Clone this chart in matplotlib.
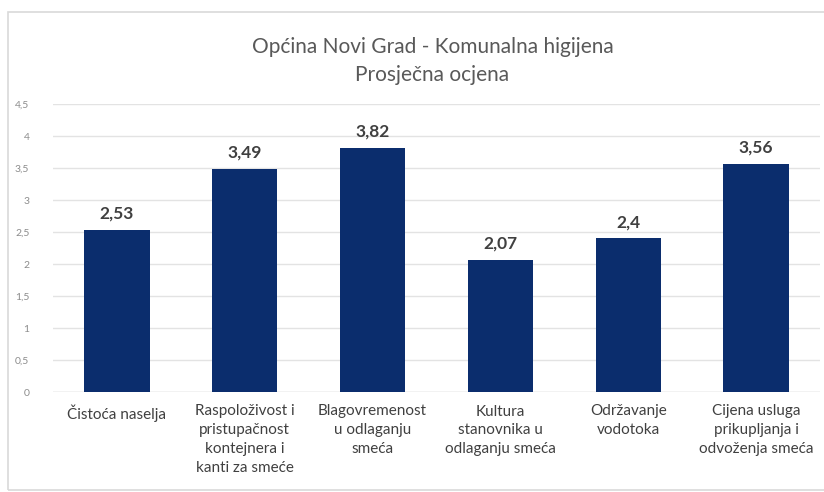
import matplotlib
matplotlib.use("Agg")
import matplotlib.pyplot as plt
from matplotlib.patches import Rectangle

categories = [
    "Čistoća naselja",
    "Raspoloživost i\npristupačnost\nkontejnera i\nkanti za smeće",
    "Blagovremenost\nu odlaganju\nsmeća",
    "Kultura\nstanovnika u\nodlaganju smeća",
    "Održavanje\nvodotoka",
    "Cijena usluga\nprikupljanja i\nodvoženja smeća",
]
values = [2.53, 3.49, 3.82, 2.07, 2.4, 3.56]
value_labels = ["2,53", "3,49", "3,82", "2,07", "2,4", "3,56"]
yticks = [0, 0.5, 1, 1.5, 2, 2.5, 3, 3.5, 4, 4.5]
ytick_labels = ["0", "0,5", "1", "1,5", "2", "2,5", "3", "3,5", "4", "4,5"]
title = "Općina Novi Grad - Komunalna higijena\nProsječna ocjena"

plt.rcParams['font.family'] = ['Lato', 'DejaVu Sans']

W, H = 824, 492
fig = plt.figure(figsize=(W / 100, H / 100), dpi=100)
fig.patch.set_facecolor("white")

# chart frame
fig.patches.append(Rectangle((8 / W, 2 / H), (W - 6) / W, (H - 14) / H,
                             transform=fig.transFigure, fill=False,
                             edgecolor="#d9d9d9", linewidth=1.2))

left, right = 53 / W, 820 / W
bottom, top = 1 - 392 / H, 1 - 104 / H
ax = fig.add_axes([left, bottom, right - left, top - bottom])

x = list(range(len(categories)))
ax.bar(x, values, width=0.51, color="#0b2d6d", zorder=3)
ax.set_xlim(-0.5, len(categories) - 0.5)
ax.set_ylim(0, 4.5)
ax.set_yticks(yticks)
ax.set_yticklabels(ytick_labels, color="#8c8c8c", fontsize=7.5)
ax.set_xticks(x)
ax.set_xticklabels(categories, color="#404040", fontsize=11, linespacing=1.45)
ax.tick_params(axis="both", length=0)
ax.tick_params(axis="y", pad=17)
ax.tick_params(axis="x", pad=9)
ax.yaxis.grid(True, color="#e3e3e3", linewidth=1, zorder=0)
for s in ax.spines.values():
    s.set_visible(False)
ax.axhline(0, color="#d9d9d9", linewidth=1, zorder=2)

for xi, v, lab in zip(x, values, value_labels):
    ax.annotate(lab, (xi, v), xytext=(0, 6), textcoords="offset points",
                ha="center", va="bottom", fontsize=12.5, fontweight="bold",
                color="#404040")

fig.text((left + right) / 2 - 0.005, 1 - 61 / H, title, ha="center", va="center",
         fontsize=15, color="#595959", linespacing=1.45)

fig.savefig("out.png", dpi=100)
